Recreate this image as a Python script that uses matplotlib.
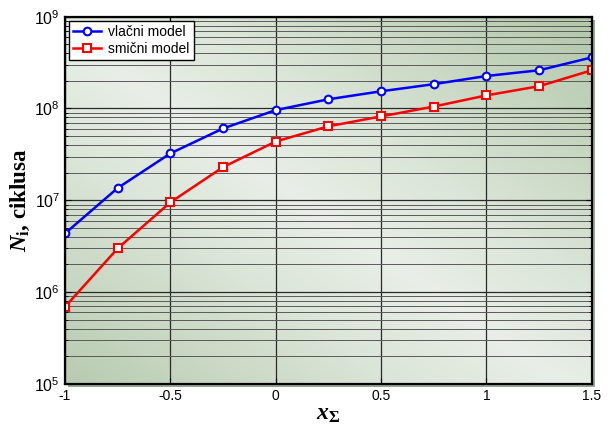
import numpy as np
import matplotlib
matplotlib.use("Agg")
import matplotlib.pyplot as plt
from matplotlib.patches import Rectangle
from matplotlib.colors import LinearSegmentedColormap
from matplotlib.ticker import FixedLocator, LogLocator, NullFormatter

plt.rcParams['mathtext.fontset'] = 'custom'
plt.rcParams['mathtext.rm'] = 'Liberation Sans'
plt.rcParams['mathtext.it'] = 'Liberation Serif:italic:bold'
plt.rcParams['mathtext.bf'] = 'Liberation Serif:bold'
plt.rcParams['font.family'] = ['Liberation Sans', 'DejaVu Sans']

x_sigma = [-1.0, -0.75, -0.5, -0.25, 0.0, 0.25, 0.5, 0.75, 1.0, 1.25, 1.5]
vlacni = [4.35e6, 1.36e7, 3.24e7, 6.06e7, 9.6e7, 1.26e8, 1.54e8, 1.84e8, 2.26e8, 2.61e8, 3.6e8]
smicni = [6.9e5, 2.99e6, 9.5e6, 2.3e7, 4.37e7, 6.4e7, 8.2e7, 1.05e8, 1.39e8, 1.75e8, 2.61e8]
x_ticks = [-1, -0.5, 0, 0.5, 1, 1.5]
x_tick_labels = ['-1', '-0.5', '0', '0.5', '1', '1.5']
y_ticks = [1e5, 1e6, 1e7, 1e8, 1e9]
y_tick_labels = [r'$\mathrm{10^{5}}$', r'$\mathrm{10^{6}}$', r'$\mathrm{10^{7}}$',
                 r'$\mathrm{10^{8}}$', r'$\mathrm{10^{9}}$']
series_names = ['vlačni model', 'smični model']

fig = plt.figure(figsize=(6.07, 4.28), dpi=100)
fig.patch.set_facecolor('white')
left, bottom, width, height = 0.107, 0.103, 0.868, 0.858
ax = fig.add_axes([left, bottom, width, height])

# shadow behind axes
dx, dy = 3 / 607, 3 / 428
fig.patches.append(Rectangle((left + dx, bottom - dy), width, height,
                             transform=fig.transFigure, facecolor='#9aa59a',
                             edgecolor='none', zorder=-10))

# gradient background
n = 300
gx, gy = np.meshgrid(np.linspace(0, 1, n), np.linspace(0, 1, n))
d = np.abs(gx + gy - 0.95)
d = np.clip(d, 0, 1) ** 0.85
cmap = LinearSegmentedColormap.from_list(
    'g', [(0.0, '#e9efe8'), (0.35, '#dde6da'), (0.7, '#c8d7c2'), (1.0, '#b5c9ad')])
ax.imshow(d, cmap=cmap, extent=[0, 1, 0, 1], origin='lower', transform=ax.transAxes,
          aspect='auto', zorder=0, interpolation='bilinear', vmin=0, vmax=1)

ax.set_yscale('log')
ax.set_xlim(-1, 1.5)
ax.set_ylim(1e5, 1e9)

ax.xaxis.set_major_locator(FixedLocator(x_ticks))
ax.set_xticklabels(x_tick_labels)
ax.yaxis.set_major_locator(FixedLocator(y_ticks))
ax.set_yticklabels(y_tick_labels)
ax.yaxis.set_minor_locator(LogLocator(base=10, subs=np.arange(2, 10)))
ax.yaxis.set_minor_formatter(NullFormatter())

ax.grid(True, which='major', axis='both', color='#2a2a2a', linewidth=0.9, zorder=1)
ax.grid(True, which='minor', axis='y', color='#5a5a5a', linewidth=0.7, zorder=1)
ax.set_axisbelow(False)

ax.tick_params(which='both', direction='in', top=True, right=True, labelsize=10, colors='black')
ax.tick_params(axis='y', which='major', labelsize=11.5)
ax.tick_params(which='major', length=4)
ax.tick_params(which='minor', length=2.5)
ax.tick_params(axis='x', pad=4)

for s in ax.spines.values():
    s.set_linewidth(1.6)
    s.set_color('black')
    s.set_zorder(5)

ax.plot(x_sigma, vlacni, color='#0000ff', linewidth=1.8, marker='o', markersize=5.5,
        markerfacecolor='white', markeredgecolor='#0000ff', markeredgewidth=1.5,
        label=series_names[0], zorder=4)
ax.plot(x_sigma, smicni, color='#ff0000', linewidth=1.8, marker='s', markersize=5.5,
        markerfacecolor='white', markeredgecolor='#ff0000', markeredgewidth=1.5,
        label=series_names[1], zorder=4)

leg = ax.legend(loc='upper left', fontsize=10, frameon=True, fancybox=False,
                edgecolor='black', framealpha=1, borderaxespad=0.3,
                handlelength=2.0, handletextpad=0.5, labelspacing=0.2, borderpad=0.3)
leg.get_frame().set_linewidth(1.0)
leg.set_zorder(6)

ax.set_ylabel(r'$\mathit{N}_{\mathbf{i}}$, ciklusa', fontsize=16.5, fontweight='bold',
              family='Liberation Serif', labelpad=2)
ax.set_xlabel(r'$\mathit{x}_{\mathbf{\Sigma}}$', fontsize=17, labelpad=0)

fig.savefig('out.png', dpi=100)
